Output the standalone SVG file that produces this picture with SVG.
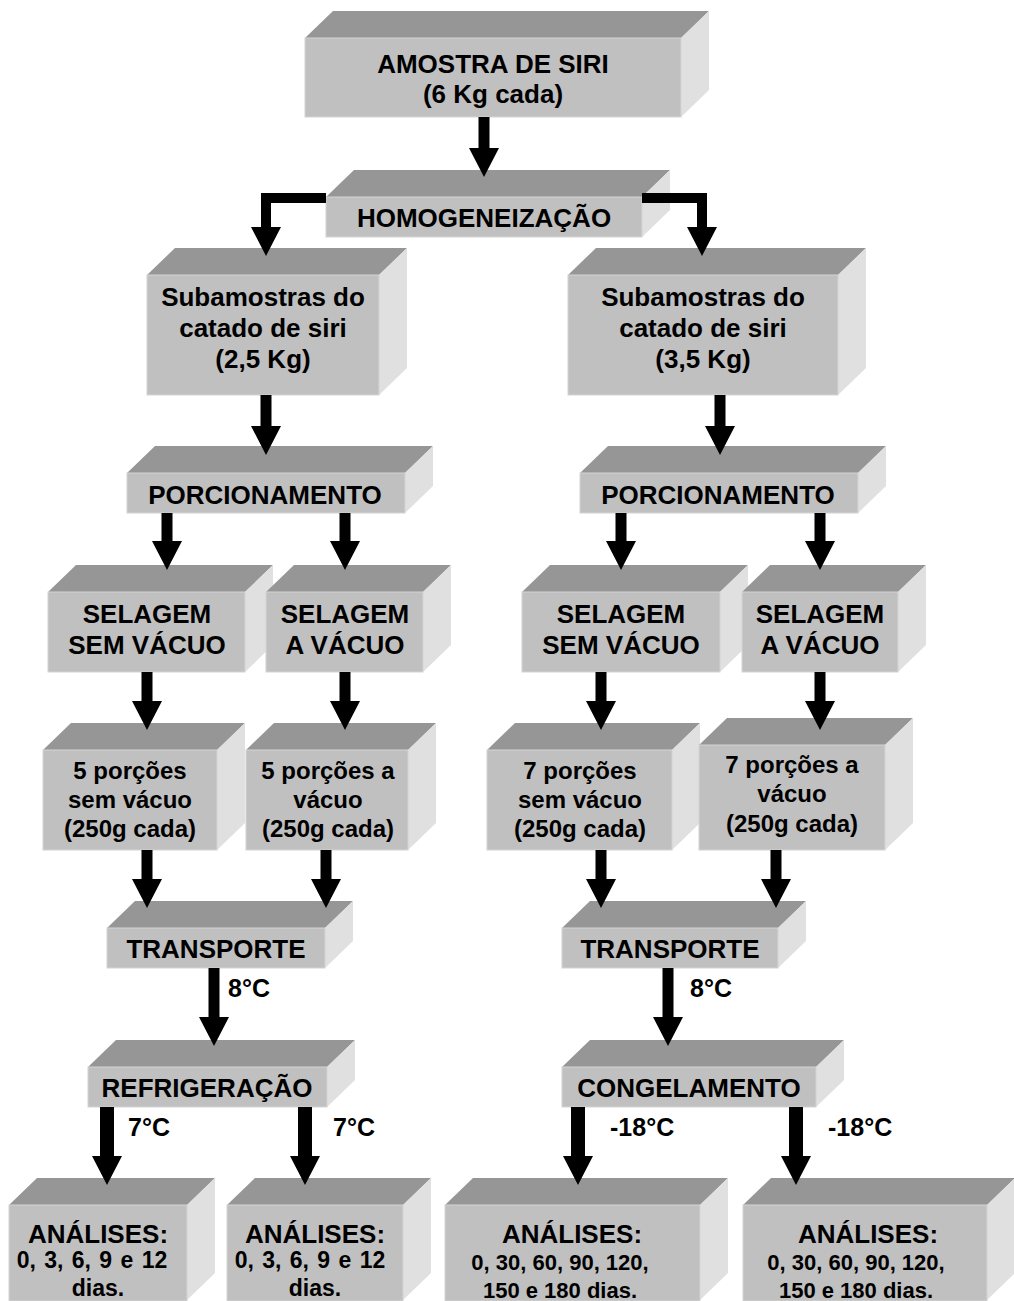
<svg xmlns="http://www.w3.org/2000/svg" width="1014" height="1301" viewBox="0 0 1014 1301">
<style>
.top{fill:#969696}
.front{fill:#c0c0c0;stroke:#d4d4d4;stroke-width:1}
.side{fill:#e0e0e0}
.arr{fill:#000}
text{font-family:"Liberation Sans",Arial,sans-serif;font-weight:bold;fill:#000;text-anchor:middle}
.t25{font-size:26px}
.t24{font-size:24px}
.t22{font-size:22px}
.t23{font-size:23px}
.lbl{font-size:25px;text-anchor:start}
</style>
<rect width="1014" height="1301" fill="#fff"/>
<g id="n1"><polygon class="top" points="305,38 333,11 709,11 681,38"/><polygon class="side" points="681,38 709,11 709,90 681,117"/><rect class="front" x="305" y="38" width="376" height="79"/>
<text class="t25" x="493" y="73">AMOSTRA DE SIRI</text><text class="t25" x="493" y="103">(6 Kg cada)</text></g>
<g id="n2"><polygon class="top" points="326,197 354,170 670,170 642,197"/><polygon class="side" points="642,197 670,170 670,210 642,237"/><rect class="front" x="326" y="197" width="316" height="40"/>
<text class="t25" x="484" y="227">HOMOGENEIZAÇÃO</text></g>
<g id="n3"><polygon class="top" points="147,275 175,248 407,248 379,275"/><polygon class="side" points="379,275 407,248 407,368 379,395"/><rect class="front" x="147" y="275" width="232" height="120"/>
<text class="t25" x="263" y="306">Subamostras do</text><text class="t25" x="263" y="337">catado de siri</text><text class="t25" x="263" y="368">(2,5 Kg)</text></g>
<g id="n4"><polygon class="top" points="568,275 596,248 866,248 838,275"/><polygon class="side" points="838,275 866,248 866,368 838,395"/><rect class="front" x="568" y="275" width="270" height="120"/>
<text class="t25" x="703" y="306">Subamostras do</text><text class="t25" x="703" y="337">catado de siri</text><text class="t25" x="703" y="368">(3,5 Kg)</text></g>
<g id="n5"><polygon class="top" points="127,473 155,446 433,446 405,473"/><polygon class="side" points="405,473 433,446 433,486 405,513"/><rect class="front" x="127" y="473" width="278" height="40"/>
<text class="t25" x="265" y="504">PORCIONAMENTO</text></g>
<g id="n6"><polygon class="top" points="580,473 608,446 886,446 858,473"/><polygon class="side" points="858,473 886,446 886,486 858,513"/><rect class="front" x="580" y="473" width="278" height="40"/>
<text class="t25" x="718" y="504">PORCIONAMENTO</text></g>
<g id="n7"><polygon class="top" points="48,592 76,565 273,565 245,592"/><polygon class="side" points="245,592 273,565 273,645 245,672"/><rect class="front" x="48" y="592" width="197" height="80"/>
<text class="t25" x="147" y="623">SELAGEM</text><text class="t25" x="147" y="654">SEM VÁCUO</text></g>
<g id="n8"><polygon class="top" points="266,592 294,565 451,565 423,592"/><polygon class="side" points="423,592 451,565 451,645 423,672"/><rect class="front" x="266" y="592" width="157" height="80"/>
<text class="t25" x="345" y="623">SELAGEM</text><text class="t25" x="345" y="654">A VÁCUO</text></g>
<g id="n9"><polygon class="top" points="522,592 550,565 748,565 720,592"/><polygon class="side" points="720,592 748,565 748,645 720,672"/><rect class="front" x="522" y="592" width="198" height="80"/>
<text class="t25" x="621" y="623">SELAGEM</text><text class="t25" x="621" y="654">SEM VÁCUO</text></g>
<g id="n10"><polygon class="top" points="742,592 770,565 926,565 898,592"/><polygon class="side" points="898,592 926,565 926,645 898,672"/><rect class="front" x="742" y="592" width="156" height="80"/>
<text class="t25" x="820" y="623">SELAGEM</text><text class="t25" x="820" y="654">A VÁCUO</text></g>
<g id="n11"><polygon class="top" points="43,750 71,723 245,723 217,750"/><polygon class="side" points="217,750 245,723 245,823 217,850"/><rect class="front" x="43" y="750" width="174" height="100"/>
<text class="t24" x="130" y="779">5 porções</text><text class="t24" x="130" y="808">sem vácuo</text><text class="t24" x="130" y="837">(250g cada)</text></g>
<g id="n12"><polygon class="top" points="246,750 274,723 436,723 408,750"/><polygon class="side" points="408,750 436,723 436,823 408,850"/><rect class="front" x="246" y="750" width="162" height="100"/>
<text class="t24" x="328" y="779">5 porções a</text><text class="t24" x="328" y="808">vácuo</text><text class="t24" x="328" y="837">(250g cada)</text></g>
<g id="n13"><polygon class="top" points="487,750 515,723 700,723 672,750"/><polygon class="side" points="672,750 700,723 700,823 672,850"/><rect class="front" x="487" y="750" width="185" height="100"/>
<text class="t24" x="580" y="779">7 porções</text><text class="t24" x="580" y="808">sem vácuo</text><text class="t24" x="580" y="837">(250g cada)</text></g>
<g id="n14"><polygon class="top" points="699,745 727,718 913,718 885,745"/><polygon class="side" points="885,745 913,718 913,823 885,850"/><rect class="front" x="699" y="745" width="186" height="105"/>
<text class="t24" x="792" y="773">7 porções a</text><text class="t24" x="792" y="802">vácuo</text><text class="t24" x="792" y="832">(250g cada)</text></g>
<g id="n15"><polygon class="top" points="107,928 135,901 353,901 325,928"/><polygon class="side" points="325,928 353,901 353,941 325,968"/><rect class="front" x="107" y="928" width="218" height="40"/>
<text class="t25" x="216" y="958">TRANSPORTE</text></g>
<g id="n16"><polygon class="top" points="562,928 590,901 806,901 778,928"/><polygon class="side" points="778,928 806,901 806,941 778,968"/><rect class="front" x="562" y="928" width="216" height="40"/>
<text class="t25" x="670" y="958">TRANSPORTE</text></g>
<g id="n17"><polygon class="top" points="88,1067 116,1040 355,1040 327,1067"/><polygon class="side" points="327,1067 355,1040 355,1080 327,1107"/><rect class="front" x="88" y="1067" width="239" height="40"/>
<text class="t25" x="207" y="1097">REFRIGERAÇÃO</text></g>
<g id="n18"><polygon class="top" points="562,1067 590,1040 844,1040 816,1067"/><polygon class="side" points="816,1067 844,1040 844,1080 816,1107"/><rect class="front" x="562" y="1067" width="254" height="40"/>
<text class="t25" x="689" y="1097">CONGELAMENTO</text></g>
<g id="n19"><polygon class="top" points="9,1205 37,1178 215,1178 187,1205"/><polygon class="side" points="187,1205 215,1178 215,1273 187,1300"/><rect class="front" x="9" y="1205" width="178" height="96"/>
<text class="t25" x="98" y="1243">ANÁLISES:</text><text class="t23" x="92" y="1268" word-spacing="2">0, 3, 6, 9 e 12</text><text class="t23" x="98" y="1296">dias.</text></g>
<g id="n20"><polygon class="top" points="227,1205 255,1178 431,1178 403,1205"/><polygon class="side" points="403,1205 431,1178 431,1273 403,1300"/><rect class="front" x="227" y="1205" width="176" height="96"/>
<text class="t25" x="315" y="1243">ANÁLISES:</text><text class="t23" x="310" y="1268" word-spacing="2">0, 3, 6, 9 e 12</text><text class="t23" x="315" y="1296">dias.</text></g>
<g id="n21"><polygon class="top" points="445,1205 473,1178 728,1178 700,1205"/><polygon class="side" points="700,1205 728,1178 728,1273 700,1300"/><rect class="front" x="445" y="1205" width="255" height="96"/>
<text class="t25" x="572" y="1243">ANÁLISES:</text><text class="t22" x="560" y="1270">0, 30, 60, 90, 120,</text><text class="t22" x="560" y="1298">150 e 180 dias.</text></g>
<g id="n22"><polygon class="top" points="743,1205 771,1178 1015,1178 987,1205"/><polygon class="side" points="987,1205 1015,1178 1015,1273 987,1300"/><rect class="front" x="743" y="1205" width="244" height="96"/>
<text class="t25" x="868" y="1243">ANÁLISES:</text><text class="t22" x="856" y="1270">0, 30, 60, 90, 120,</text><text class="t22" x="856" y="1298">150 e 180 dias.</text></g>
<g id="connectors" class="arr">
<polygon points="478.5,117 489.5,117 489.5,148 499,148 484,177 469,148 478.5,148"/>
<polygon points="326,193 326,203 271,203 271,227 281,227 266,256 251,227 261,227 261,193"/>
<polygon points="642,193 707,193 707,227 717,227 702,256 687,227 697,227 697,203 642,203"/>
<polygon points="260.5,395 271.5,395 271.5,426 281,426 266,455 251,426 260.5,426"/>
<polygon points="714.5,395 725.5,395 725.5,426 735,426 720,455 705,426 714.5,426"/>
<polygon points="161.5,513 172.5,513 172.5,541 182,541 167,570 152,541 161.5,541"/>
<polygon points="339.5,513 350.5,513 350.5,541 360,541 345,570 330,541 339.5,541"/>
<polygon points="615.5,513 626.5,513 626.5,541 636,541 621,570 606,541 615.5,541"/>
<polygon points="814.5,513 825.5,513 825.5,541 835,541 820,570 805,541 814.5,541"/>
<polygon points="141.5,672 152.5,672 152.5,701 162,701 147,730 132,701 141.5,701"/>
<polygon points="339.5,672 350.5,672 350.5,701 360,701 345,730 330,701 339.5,701"/>
<polygon points="595.5,672 606.5,672 606.5,701 616,701 601,730 586,701 595.5,701"/>
<polygon points="814.5,672 825.5,672 825.5,701 835,701 820,730 805,701 814.5,701"/>
<polygon points="141.5,850 152.5,850 152.5,879 162,879 147,908 132,879 141.5,879"/>
<polygon points="320.5,850 331.5,850 331.5,879 341,879 326,908 311,879 320.5,879"/>
<polygon points="595.5,850 606.5,850 606.5,879 616,879 601,908 586,879 595.5,879"/>
<polygon points="770.5,850 781.5,850 781.5,879 791,879 776,908 761,879 770.5,879"/>
<polygon points="208.5,968 219.5,968 219.5,1017 229,1017 214,1046 199,1017 208.5,1017"/>
<polygon points="662.5,968 673.5,968 673.5,1017 683,1017 668,1046 653,1017 662.5,1017"/>
<polygon points="100,1107 114,1107 114,1156 122,1156 107,1185 92,1156 100,1156"/>
<polygon points="298,1107 312,1107 312,1156 320,1156 305,1185 290,1156 298,1156"/>
<polygon points="571,1107 585,1107 585,1156 593,1156 578,1185 563,1156 571,1156"/>
<polygon points="789,1107 803,1107 803,1156 811,1156 796,1185 781,1156 789,1156"/>
<text class="lbl" x="228" y="997">8°C</text>
<text class="lbl" x="690" y="997">8°C</text>
<text class="lbl" x="128" y="1136">7°C</text>
<text class="lbl" x="333" y="1136">7°C</text>
<text class="lbl" x="610" y="1136">-18°C</text>
<text class="lbl" x="828" y="1136">-18°C</text>
</g>
</svg>
